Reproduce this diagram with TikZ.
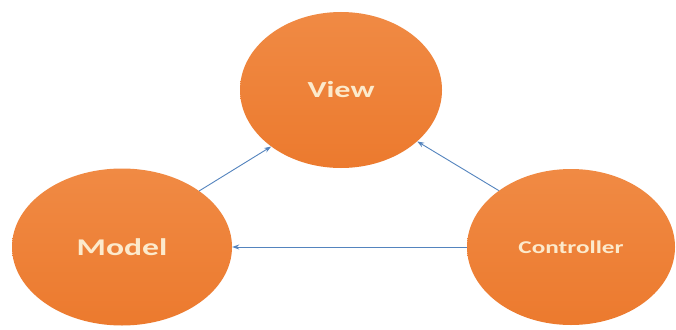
\documentclass[tikz,border=0pt]{standalone}
\usepackage{fontspec}
\usetikzlibrary{shapes.geometric,arrows.meta}
\newfontfamily\mvcfont[FakeStretch=1.4]{Carlito}
\definecolor{mvcorange}{RGB}{236,122,46}
\definecolor{mvclight}{RGB}{240,138,68}
\definecolor{mvctext}{RGB}{252,234,204}
\definecolor{mvcblue}{RGB}{84,132,190}

\begin{document}
\begin{tikzpicture}[x=1pt, y=-1pt, >={Stealth[length=7pt,width=5pt]},
    mvcpart/.style={ellipse, inner sep=0pt, top color=mvclight,
        bottom color=mvcorange, draw=none, text=mvctext},
    mvcarrow/.style={->, mvcblue, line width=0.9pt}]
    % Rahmen des Bildes
    \useasboundingbox (0,0) rectangle (676,329);
    \fill[white] (0,0) rectangle (676,329);

    % die drei Teile
    \node[mvcpart, minimum width=202pt, minimum height=156pt,
        font=\mvcfont\bfseries\fontsize{23}{26}\selectfont] (view) at (341,90) {View};
    \node[mvcpart, minimum width=220pt, minimum height=157pt,
        font=\mvcfont\bfseries\fontsize{24}{27}\selectfont] (model) at (122,247) {Model};
    \node[mvcpart, minimum width=208pt, minimum height=156pt,
        font=\mvcfont\bfseries\fontsize{18}{21}\selectfont] (controller) at (571,247) {Controller};

    % Pfeile
    \draw[mvcarrow] (model.36) -- (view.219);
    \draw[mvcarrow] (controller.142) -- (view.326);
    \draw[mvcarrow] (controller.west) -- (model.east);
\end{tikzpicture}
\end{document}
